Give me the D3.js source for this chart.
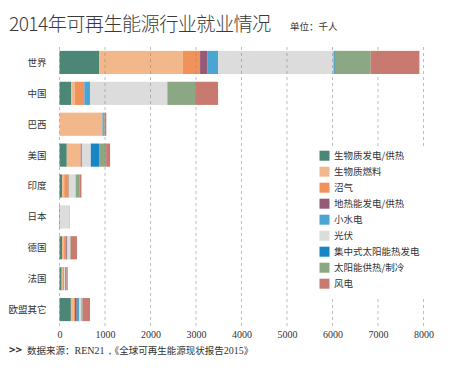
<!DOCTYPE html>
<html>
<head>
<meta charset="utf-8">
<script src="https://cdn.jsdelivr.net/npm/d3@7"></script>
<style>
  body { margin: 0; background: #fff; }
  svg { display: block; }
</style>
</head>
<body>
<div id="chart"></div>
<script>
// 2014年可再生能源行业就业情况 (千人)
const countries = ["世界", "中国", "巴西", "美国", "印度", "日本", "德国", "法国", "欧盟其它"];
const sectors = ["生物质发电/供热", "生物质燃料", "沼气", "地热能发电/供热", "小水电", "光伏",
                 "集中式太阳能热发电", "太阳能供热/制冷", "风电"];
const colors = ["#4c8677", "#f2b88b", "#f0925a", "#955a76", "#4aa5d3", "#dcdcdc",
                "#1985c5", "#8ba784", "#c87a70"];

// one array per sector, in country order
const biomassPower = [870, 255, 0, 160, 58, 10, 55, 48, 250];
const biofuels     = [1840, 85, 940, 308, 45, 0, 45, 35, 60];
const biogas       = [380, 205, 0, 0, 100, 0, 45, 4, 30];
const geothermal   = [165, 0, 0, 22, 0, 0, 17, 10, 40];
const smallHydro   = [230, 125, 12, 0, 12, 0, 12, 4, 55];
const solarPV      = [2540, 1700, 0, 198, 140, 215, 60, 25, 45];
const csp          = [25, 0, 0, 182, 0, 0, 0, 15, 0];
const solarHeat    = [790, 610, 40, 154, 80, 0, 12, 10, 30];
const wind         = [1070, 505, 36, 88, 48, 5, 138, 30, 160];
const xTicks = [0, 1000, 2000, 3000, 4000, 5000, 6000, 7000, 8000];

const series = [biomassPower, biofuels, biogas, geothermal, smallHydro, solarPV, csp, solarHeat, wind];

const width = 470, height = 371;
const svg = d3.select("#chart").append("svg")
    .attr("width", width)
    .attr("height", height);

const x = d3.scaleLinear().domain([0, 8000]).range([59.5, 423.5]);
const y = d3.scaleBand().domain(countries).range([47, 325])
    .paddingInner(0.25).paddingOuter(0.125);

// title
svg.append("text")
    .attr("x", 9).attr("y", 31)
    .attr("font-family", "'Noto Sans CJK SC', sans-serif")
    .attr("font-size", 19.2).attr("font-weight", 300)
    .attr("fill", "#3a3a3a")
    .attr("letter-spacing", -0.6)
    .text("2014年可再生能源行业就业情况");
svg.append("text")
    .attr("x", 290).attr("y", 30)
    .attr("font-family", "'Noto Sans CJK SC', sans-serif")
    .attr("font-size", 9.5)
    .attr("fill", "#333")
    .text("单位：千人");

// stacked bars
const table = countries.map((c, i) => {
    let row = { country: c };
    sectors.forEach((s, j) => { row[s] = series[j][i]; });
    return row;
});
const stack = d3.stack().keys(sectors)(table);

svg.append("g").selectAll("g")
    .data(stack).enter().append("g")
    .attr("fill", (d, i) => colors[i])
    .selectAll("rect")
    .data(d => d).enter().append("rect")
    .attr("x", d => x(d[0]))
    .attr("width", d => x(d[1]) - x(d[0]))
    .attr("y", d => y(d.data.country))
    .attr("height", y.bandwidth());

// grid, drawn over the bars
svg.append("g").selectAll("line")
    .data(xTicks).enter().append("line")
    .attr("x1", d => x(d)).attr("x2", d => x(d))
    .attr("y1", 47).attr("y2", 326)
    .attr("stroke", "#888")
    .attr("stroke-opacity", 0.7)
    .attr("stroke-width", 0.8)
    .attr("stroke-dasharray", "3,3");

// country labels
svg.append("g").selectAll("text")
    .data(countries).enter().append("text")
    .attr("x", 46.5)
    .attr("y", d => y(d) + y.bandwidth() / 2)
    .attr("dy", "0.36em")
    .attr("text-anchor", "end")
    .attr("font-family", "'Noto Sans CJK SC', sans-serif")
    .attr("font-size", 9.5)
    .attr("fill", "#333")
    .text(d => d);

// x axis labels
const xAxis = svg.append("g")
    .attr("transform", "translate(0,327)")
    .call(d3.axisBottom(x).tickValues(xTicks).tickSize(0).tickPadding(4).tickFormat(d3.format("d")));
xAxis.select(".domain").remove();
xAxis.selectAll("text")
    .attr("font-family", "'Liberation Serif', serif")
    .attr("font-size", 10)
    .attr("fill", "#333");

// legend on a white box
svg.append("rect")
    .attr("x", 314).attr("y", 146)
    .attr("width", 118).attr("height", 150)
    .attr("fill", "#fff");
const legend = svg.append("g").selectAll("g")
    .data(sectors).enter().append("g")
    .attr("transform", (d, i) => "translate(319.5," + (150.7 + i * 16) + ")");
legend.append("rect")
    .attr("width", 10).attr("height", 10)
    .attr("fill", (d, i) => colors[i]);
legend.append("text")
    .attr("x", 14.5).attr("y", 5)
    .attr("dy", "0.36em")
    .attr("font-family", "'Noto Sans CJK SC', sans-serif")
    .attr("font-size", 9.5)
    .attr("fill", "#333")
    .text(d => d);

// source
const src = svg.append("text")
    .attr("x", 9).attr("y", 353.5)
    .attr("font-family", "'Noto Sans CJK SC', sans-serif")
    .attr("font-size", 9.5)
    .attr("fill", "#333");
src.append("tspan").attr("font-weight", "bold").attr("font-size", 11).text(">>");
src.append("tspan").attr("dx", 5).text("数据来源：");
src.append("tspan").attr("font-family", "'Liberation Serif', serif").attr("font-size", 10).text("REN21，");
src.append("tspan").text("《全球可再生能源现状报告");
src.append("tspan").attr("font-family", "'Liberation Serif', serif").attr("font-size", 10).text("2015");
src.append("tspan").text("》");
</script>
</body>
</html>
